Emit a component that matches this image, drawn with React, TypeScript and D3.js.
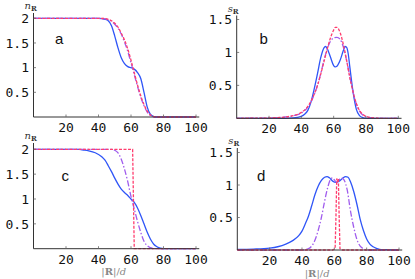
import React from "react";
import * as d3 from "d3";

const xTicks = [20, 40, 60, 80, 100];
const nTicks = [0.5, 1, 1.5, 2];
const sTicks = [0.5, 1, 1.5];

// panel a: n_R
const aBlue: [number, number][] = [[0,2],[20,2],[40,2],[44,1.98],[46,1.95],[48,1.85],[50,1.64],[52,1.4],[54,1.2],[56,1.08],[58,1.02],[60,1.0],[62,0.97],[64,0.9],[66,0.78],[68,0.5],[70,0.2],[72,0.05],[74,0.01],[76,0],[100,0]];
const aRed: [number, number][] = [[0,2],[20,2],[40,2],[44,1.995],[46,1.98],[48,1.95],[50,1.9],[52,1.82],[54,1.7],[56,1.56],[58,1.38],[60,1.15],[62,0.9],[64,0.65],[66,0.43],[68,0.25],[70,0.12],[72,0.04],[74,0.01],[76,0],[100,0]];
const aPurple: [number, number][] = [[0,2],[20,2],[40,2],[44,1.99],[46,1.97],[48,1.94],[50,1.88],[52,1.8],[54,1.68],[56,1.52],[58,1.33],[60,1.1],[62,0.86],[64,0.62],[66,0.4],[68,0.23],[70,0.1],[72,0.03],[74,0.005],[76,0],[100,0]];

// panel b: s_R
const bBlue: [number, number][] = [[0,0],[30,0],[35,0.005],[40,0.03],[42,0.06],[44,0.12],[46,0.25],[48,0.45],[50,0.68],[52,0.92],[54,1.07],[55,1.09],[56,1.06],[58,0.93],[60,0.8],[61,0.78],[62,0.79],[64,0.88],[66,1.03],[67,1.09],[68,1.08],[69,0.98],[70,0.78],[72,0.4],[74,0.14],[76,0.04],[78,0.01],[80,0],[100,0]];
const bRed: [number, number][] = [[0,0],[20,0.005],[30,0.02],[35,0.04],[40,0.09],[44,0.18],[46,0.26],[48,0.37],[50,0.5],[52,0.67],[54,0.86],[56,1.05],[58,1.22],[60,1.34],[61,1.38],[62,1.38],[64,1.3],[66,1.12],[68,0.88],[70,0.62],[72,0.4],[74,0.23],[76,0.12],[78,0.06],[80,0.03],[85,0.005],[90,0],[100,0]];
const bPurple: [number, number][] = [[0,0],[20,0.005],[30,0.02],[35,0.04],[40,0.08],[44,0.17],[46,0.25],[48,0.36],[50,0.5],[52,0.68],[54,0.88],[56,1.05],[58,1.17],[60,1.22],[62,1.23],[64,1.2],[66,1.08],[68,0.88],[70,0.63],[72,0.4],[74,0.22],[76,0.11],[78,0.05],[80,0.02],[85,0.005],[90,0],[100,0]];

// panel c: n_R
const cBlue: [number, number][] = [[0,2],[28,2],[30,1.99],[34,1.97],[38,1.93],[42,1.85],[44,1.78],[46,1.67],[48,1.55],[50,1.42],[52,1.3],[54,1.2],[56,1.13],[58,1.07],[60,1.0],[62,0.93],[64,0.82],[66,0.67],[68,0.5],[70,0.33],[72,0.19],[74,0.09],[76,0.04],[78,0.01],[80,0],[100,0]];
const cRed: [number, number][] = [[0,2],[61,2],[62,0],[100,0]];
const cPurple: [number, number][] = [[0,2],[48,2],[50,1.98],[52,1.93],[54,1.8],[56,1.6],[58,1.35],[60,1.05],[62,0.8],[64,0.55],[66,0.33],[68,0.15],[70,0.06],[72,0.02],[74,0],[100,0]];

// panel d: s_R
const dBlue: [number, number][] = [[0,0.01],[10,0.015],[20,0.03],[25,0.05],[30,0.09],[34,0.14],[38,0.22],[40,0.29],[42,0.4],[44,0.52],[46,0.68],[48,0.85],[50,0.98],[52,1.07],[54,1.12],[55.5,1.13],[57,1.11],[59,1.06],[61,1.04],[63,1.06],[65,1.1],[67,1.13],[68.5,1.12],[70,1.05],[72,0.9],[74,0.7],[76,0.47],[78,0.3],[80,0.17],[82,0.09],[84,0.05],[86,0.025],[88,0.01],[90,0.005],[100,0]];
const dRed: [number, number][] = [[0,0],[59,0],[60.5,0.02],[61,0.5],[61.5,1.1],[62,1.05],[62.5,1.1],[63,0.5],[63.5,0.02],[65,0],[100,0]];
const dPurple: [number, number][] = [[0,0],[40,0],[44,0.02],[46,0.06],[48,0.15],[50,0.3],[52,0.5],[54,0.75],[56,0.97],[58,1.1],[59,1.11],[60,1.08],[61.5,1.04],[63,1.08],[64.5,1.11],[66,1.08],[68,0.92],[70,0.6],[72,0.35],[74,0.16],[76,0.06],[78,0.02],[80,0],[100,0]];

const BLUE = "#2f55f7";
const RED = "#ff3d6e";
const PURPLE = "#a05ced";

type Panel = {
  label: string;
  yName: string;
  x0: number; x1: number; yb: number; yt: number; ymax: number; axisTop: number;
  yTicks: number[];
  blue: [number, number][]; red: [number, number][]; purple: [number, number][];
  redLinear?: boolean;
  xLabel: boolean;
  lx: number; ly: number;
};

const panels: Panel[] = [
  { label: "a", yName: "n", x0: 33.5, x1: 196, yb: 117, yt: 18.3, ymax: 2, axisTop: 13, yTicks: nTicks, blue: aBlue, red: aRed, purple: aPurple, xLabel: false, lx: 55, ly: 43.5 },
  { label: "b", yName: "s", x0: 236.7, x1: 398.3, yb: 118.3, yt: 19.5, ymax: 1.5, axisTop: 15.5, yTicks: sTicks, blue: bBlue, red: bRed, purple: bPurple, xLabel: false, lx: 259.5, ly: 44 },
  { label: "c", yName: "n", x0: 33.5, x1: 196, yb: 248.7, yt: 149.3, ymax: 2, axisTop: 143, yTicks: nTicks, blue: cBlue, red: cRed, purple: cPurple, redLinear: true, xLabel: true, lx: 61.5, ly: 180.5 },
  { label: "d", yName: "s", x0: 237.3, x1: 399, yb: 250, yt: 152.5, ymax: 1.5, axisTop: 148, yTicks: sTicks, blue: dBlue, red: dRed, purple: dPurple, redLinear: true, xLabel: true, lx: 257, ly: 180.7 },
];

const tickFont = "'DejaVu Sans Mono', 'Liberation Mono', monospace";

function PanelView({ p }: { p: Panel }) {
  const x = d3.scaleLinear().domain([0, 100]).range([p.x0, p.x1]);
  const y = d3.scaleLinear().domain([0, p.ymax]).range([p.yb, p.yt]);
  const smooth = d3.line<[number, number]>().x(d => x(d[0])).y(d => y(d[1])).curve(d3.curveMonotoneX);
  const lin = d3.line<[number, number]>().x(d => x(d[0])).y(d => y(d[1]));
  return (
    <g>
      {/* curves */}
      <path d={smooth(p.blue) || ""} fill="none" stroke={BLUE} strokeWidth={1.3} />
      <path d={smooth(p.purple) || ""} fill="none" stroke={PURPLE} strokeWidth={1.3} strokeDasharray="6,2,1.5,2" />
      <path d={(p.redLinear ? lin : smooth)(p.red) || ""} fill="none" stroke={RED} strokeWidth={1.3} strokeDasharray="3,1.5" />
      {/* axes */}
      <line x1={x(0)} x2={x(102)} y1={p.yb} y2={p.yb} stroke="#333" strokeWidth={1} />
      <line x1={p.x0} x2={p.x0} y1={p.yb} y2={p.axisTop} stroke="#333" strokeWidth={1} />
      {xTicks.map(t => (
        <g key={"x" + t}>
          <line x1={x(t)} x2={x(t)} y1={p.yb} y2={p.yb - 2.5} stroke="#666" strokeWidth={0.8} />
          <text x={x(t)} y={p.yb + 15} textAnchor="middle" fontFamily={tickFont} fontSize={13} fill="#111">{t}</text>
        </g>
      ))}
      {p.yTicks.map(t => (
        <g key={"y" + t}>
          <line x1={p.x0} x2={p.x0 + 2.5} y1={y(t)} y2={y(t)} stroke="#666" strokeWidth={0.8} />
          <text x={p.x0 - 4.5} y={y(t)} dy="0.36em" textAnchor="end" fontFamily={tickFont} fontSize={13} fill="#111">{t}</text>
        </g>
      ))}
      {/* y axis name */}
      <text x={p.x0 - 9} y={p.axisTop - 4} fontFamily="'DejaVu Serif', 'Liberation Serif', serif" fontSize={10} fill="#333">
        <tspan fontStyle="italic">{p.yName}</tspan>
        <tspan fontWeight="bold" fontSize={7} dy={2}>R</tspan>
      </text>
      {/* panel label */}
      <text x={p.lx} y={p.ly} fontFamily="'Liberation Sans', Arial, sans-serif" fontSize={15} fill="#111">{p.label}</text>
      {p.xLabel && (
        <text x={(p.x0 + p.x1) / 2 - 1} y={p.yb + 26.5} textAnchor="middle" fontFamily="'DejaVu Serif', 'Liberation Serif', serif" fontSize={10} fill="#888">
          |<tspan fontWeight="bold">R</tspan>|/<tspan fontStyle="italic">d</tspan>
        </text>
      )}
    </g>
  );
}

export default function App() {
  return (
    <svg width={415} height={279} style={{ position: "absolute", left: 0, top: 0, background: "#fff" }}>
      <rect width={415} height={279} fill="#fff" />
      {panels.map(p => <PanelView key={p.label} p={p} />)}
    </svg>
  );
}
